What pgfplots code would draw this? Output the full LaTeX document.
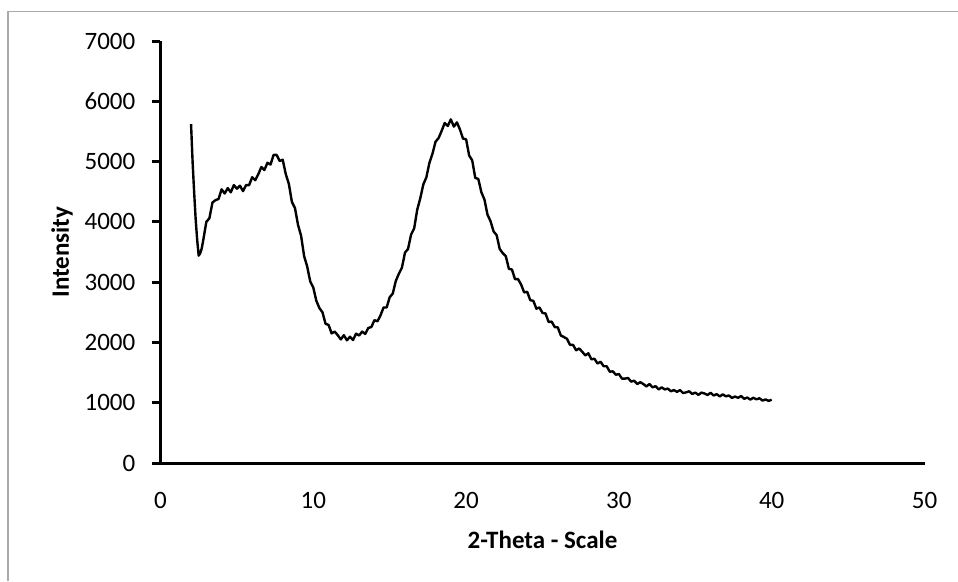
\documentclass[border=0pt]{standalone}
\usepackage{fontspec}
\setmainfont{Carlito}
\usepackage{pgfplots}
\usepackage{pgfplotstable}
\pgfplotsset{compat=1.18}
\definecolor{framegray}{RGB}{170,170,170}
\pgfplotstableread{
x y
2.0 5620
2.1 5000
2.2 4500
2.3 4050
2.4 3700
2.5 3440
2.6 3480
2.7 3560
2.8 3700
3.0 4000
3.2 4060
3.4 4320
3.6 4360
3.8 4380
4.0 4540
4.2 4470
4.4 4560
4.6 4490
4.8 4610
5.0 4550
5.2 4600
5.4 4510
5.6 4610
5.8 4610
6.0 4740
6.2 4690
6.4 4790
6.6 4910
6.8 4860
7.0 4980
7.2 4950
7.4 5110
7.6 5110
7.8 5010
8.0 5030
8.2 4790
8.4 4630
8.6 4330
8.8 4230
9.0 3950
9.2 3770
9.4 3430
9.6 3260
9.8 3010
10.0 2910
10.2 2690
10.4 2570
10.6 2500
10.8 2310
11.0 2290
11.2 2150
11.4 2180
11.6 2120
11.8 2050
12.0 2120
12.2 2035
12.4 2095
12.6 2040
12.8 2145
13.0 2115
13.2 2180
13.4 2140
13.6 2240
13.8 2255
14.0 2370
14.2 2350
14.4 2450
14.6 2580
14.8 2580
15.0 2750
15.2 2810
15.4 3020
15.6 3140
15.8 3240
16.0 3490
16.2 3550
16.4 3790
16.6 3890
16.8 4200
17.0 4390
17.2 4620
17.4 4740
17.6 4980
17.8 5130
18.0 5330
18.2 5390
18.4 5510
18.6 5640
18.8 5590
19.0 5700
19.2 5580
19.4 5650
19.6 5530
19.8 5380
20.0 5370
20.2 5100
20.4 5020
20.6 4730
20.8 4710
21.0 4490
21.2 4370
21.4 4120
21.6 4010
21.8 3840
22.0 3780
22.2 3550
22.4 3480
22.6 3430
22.8 3220
23.0 3210
23.2 3050
23.4 3050
23.6 2960
23.8 2830
24.0 2840
24.2 2700
24.4 2690
24.6 2560
24.8 2580
25.0 2490
25.2 2480
25.4 2340
25.6 2345
25.8 2255
26.0 2250
26.2 2115
26.4 2090
26.6 2060
26.8 1960
27.0 1960
27.2 1870
27.4 1900
27.6 1845
27.8 1785
28.0 1820
28.2 1720
28.4 1730
28.6 1650
28.8 1680
29.0 1605
29.2 1605
29.4 1515
29.6 1520
29.8 1465
30.0 1475
30.2 1400
30.4 1400
30.6 1410
30.8 1350
31.0 1365
31.2 1310
31.4 1340
31.6 1310
31.8 1270
32.0 1310
32.2 1255
32.4 1275
32.6 1220
32.8 1255
33.0 1220
33.2 1235
33.4 1190
33.6 1210
33.8 1180
34.0 1210
34.2 1160
34.4 1172
34.6 1190
34.8 1145
35.0 1168
35.2 1130
35.4 1168
35.6 1153
35.8 1128
36.0 1165
36.2 1120
36.4 1142
36.6 1105
36.8 1138
37.0 1106
37.2 1120
37.4 1080
37.6 1102
37.8 1082
38.0 1110
38.2 1065
38.4 1086
38.6 1052
38.8 1082
39.0 1056
39.2 1074
39.4 1035
39.6 1055
39.8 1030
40.0 1050
}\xrd
\begin{document}
\fontsize{25}{30}\selectfont
\begin{tikzpicture}
\draw[framegray, line width=1.3pt] (-152.5pt,-118pt) -- (-152.5pt,451.5pt) -- (797.5pt,451.5pt);
\begin{axis}[
  anchor=south west,
  scale only axis, width=764pt, height=422pt,
  xmin=0, xmax=50, ymin=0, ymax=7000,
  xtick={0,10,20,30,40,50},
  ytick={0,1000,2000,3000,4000,5000,6000,7000},
  axis x line*=bottom, axis y line*=left,
  every inner x axis line/.append style={-},
  every inner y axis line/.append style={-},
  axis line style={black, line width=3pt},
  tick align=outside,
  major tick length=8pt,
  xtick style={draw=none},
  ytick style={black, line width=3pt},
  /pgf/number format/assume math mode=true,
  /pgf/number format/1000 sep={},
  tick label style={font=\fontsize{25}{30}\selectfont},
  xticklabel style={anchor=north, inner sep=0pt, yshift=-21pt},
  yticklabel style={anchor=east, inner sep=0pt, xshift=-17pt},
  xlabel={2-Theta - Scale},
  ylabel={Intensity},
  every axis x label/.style={at={(rel axis cs:0.5,0)}, yshift=-77pt, anchor=center, font=\fontsize{25}{30}\selectfont\bfseries},
  every axis y label/.style={at={(rel axis cs:0,0.5)}, xshift=-98.5pt, rotate=90, anchor=center, font=\fontsize{25}{30}\selectfont\bfseries},
  clip=false,
]
\addplot[black, line width=2.4pt, line join=round] table[x=x, y=y] {\xrd};
\end{axis}
\pgfresetboundingbox
\path[use as bounding box] (-160.5pt,-118pt) rectangle (797.5pt,463pt);
\end{tikzpicture}
\end{document}
